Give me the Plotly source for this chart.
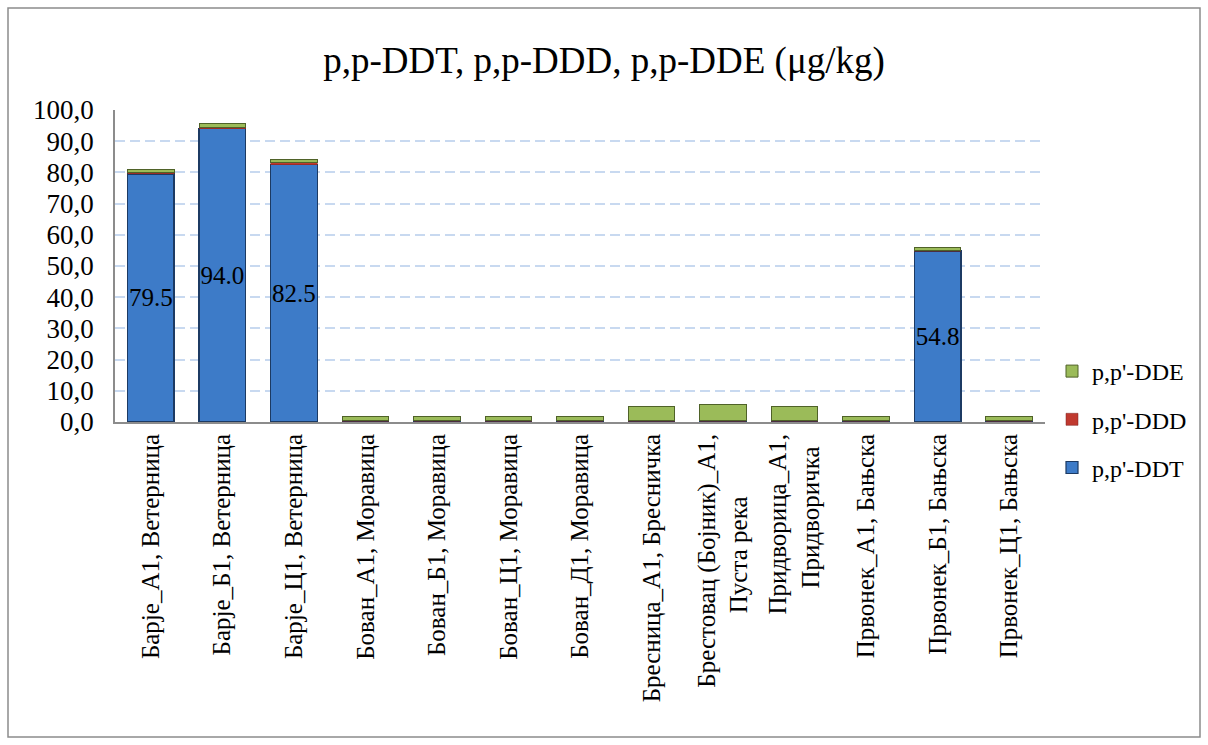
import plotly.graph_objects as go

categories = [
    "Барје_А1, Ветерница",
    "Барје_Б1, Ветерница",
    "Барје_Ц1, Ветерница",
    "Бован_А1, Моравица",
    "Бован_Б1, Моравица",
    "Бован_Ц1, Моравица",
    "Бован_Д1, Моравица",
    "Бресница_А1, Бресничка",
    "Брестовац (Бојник)_А1,<br>Пуста река",
    "Придворица_А1,<br>Придворичка",
    "Првонек_А1, Бањска",
    "Првонек_Б1, Бањска",
    "Првонек_Ц1, Бањска",
]
ddt = [79.5, 94.0, 82.5, 0.3, 0.3, 0.3, 0.3, 0.3, 0.3, 0.3, 0.3, 54.8, 0.3]
ddd = [0.5, 0.4, 0.6, 0.2, 0.2, 0.2, 0.2, 0.2, 0.2, 0.2, 0.2, 0.3, 0.2]
dde = [0.8, 1.2, 1.0, 1.3, 1.3, 1.3, 1.3, 4.5, 5.2, 4.5, 1.3, 0.8, 1.3]
ddt_labels = ["79.5", "94.0", "82.5", "", "", "", "", "", "", "", "", "54.8", ""]

FONT = "Liberation Serif"


def centered(label):
    # rotated tick lines are anchored at the axis; pad shorter lines so they look centred
    lines = label.split("<br>")
    if len(lines) == 1:
        return label
    longest = max(len(s) for s in lines)
    out = []
    for s in lines:
        pad = round((longest - len(s)) * 0.8)
        out.append(s + "\u00a0" * pad)
    return "<br>".join(out)


ticktext = [centered(c) for c in categories]

fig = go.Figure()
fig.add_trace(go.Bar(
    x=categories, y=ddt, name="p,p'-DDT",
    marker=dict(color="#3d7bc8", line=dict(color="#1c3a63", width=1.2)),
    text=ddt_labels, textposition="inside", insidetextanchor="middle",
    textangle=0, constraintext="none",
    textfont=dict(family=FONT, size=25, color="black"),
    legendgroup="a", legendrank=3,
))
fig.add_trace(go.Bar(
    x=categories, y=ddd, name="p,p'-DDD",
    marker=dict(color="#c0392f", line=dict(color="#7a2020", width=0.5)),
    legendgroup="b", legendrank=2,
))
fig.add_trace(go.Bar(
    x=categories, y=dde, name="p,p'-DDE",
    marker=dict(color="#9bbb59", line=dict(color="#4f6228", width=1)),
    legendgroup="c", legendrank=1,
))

L, R, T, B = 115, 163, 110, 323
W, H = 1208, 745
pw, ph = W - L - R, H - T - B

fig.update_layout(
    width=W, height=H,
    barmode="stack",
    bargap=0.35,
    separators=", ",
    plot_bgcolor="white",
    paper_bgcolor="white",
    margin=dict(l=L, r=R, t=T, b=B, autoexpand=False),
    font=dict(family=FONT, color="black"),
    title=dict(text="p,p-DDT, p,p-DDD, p,p-DDE (μg/kg)", x=0.5, xanchor="center",
               y=1 - 60 / H, yanchor="middle",
               font=dict(family=FONT, size=37, color="black")),
    showlegend=True,
    legend=dict(x=(1052 - L) / pw, y=(422 - 349) / ph,
                xanchor="left", yanchor="top",
                bgcolor="rgba(0,0,0,0)",
                traceorder="grouped", tracegroupgap=14,
                font=dict(family=FONT, size=24, color="black"),
                itemwidth=30),
    xaxis=dict(tickangle=-90, tickfont=dict(family=FONT, size=25, color="black"),
               tickmode="array", tickvals=categories, ticktext=ticktext,
               showline=True, linecolor="#8c8c8c", linewidth=2,
               ticks="", showgrid=False, automargin=False),
    yaxis=dict(range=[0, 100], dtick=10, tickformat=".1f",
               tickfont=dict(family=FONT, size=27, color="black"),
               ticklabelstandoff=14,
               showline=True, linecolor="#8c8c8c", linewidth=1.5,
               showgrid=True, gridcolor="#c8d9f0", griddash="10px,5px", gridwidth=1.5,
               zeroline=False, ticks="", automargin=False),
)

# outer chart border
fig.add_shape(type="rect", xref="paper", yref="paper",
              x0=(8 - L) / pw, x1=(1200 - L) / pw,
              y0=-(737 - T - ph) / ph, y1=1 + (T - 8) / ph,
              line=dict(color="#8c8c8c", width=1.5), fillcolor="rgba(0,0,0,0)")

fig.write_html("out.html", config={"displayModeBar": False},
               post_script="document.body.style.margin='0';")
